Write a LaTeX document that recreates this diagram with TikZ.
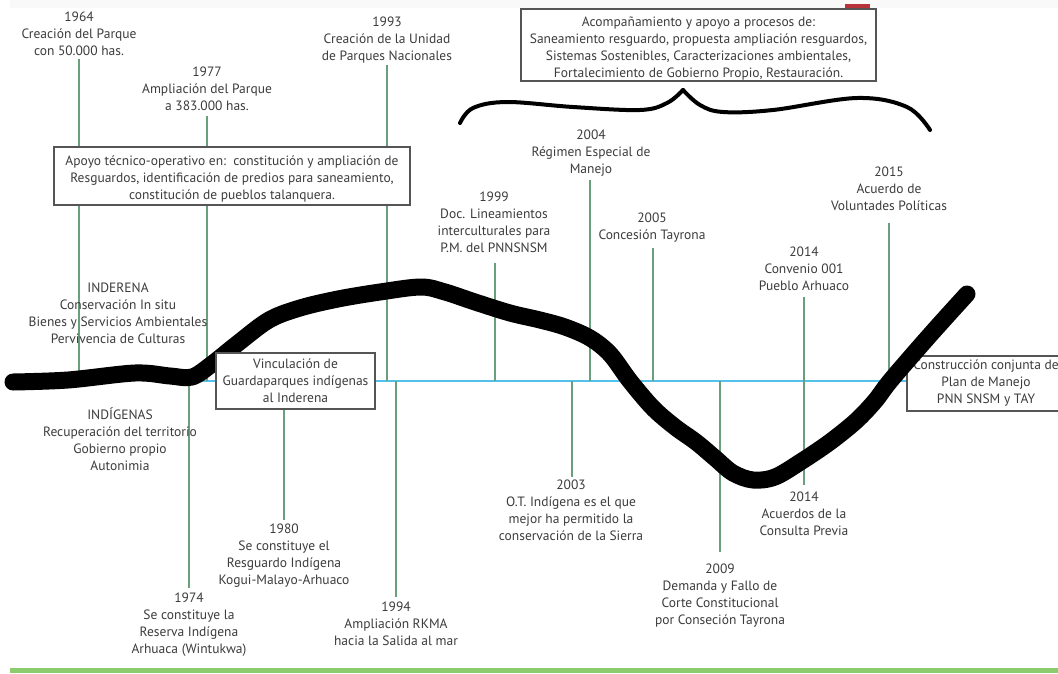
\documentclass[tikz,border=0pt]{standalone}
\usepackage{fontspec}
\setmainfont{PT Sans}
\definecolor{txt}{HTML}{3C3C3C}
\definecolor{vgreen}{HTML}{6A9F7E}
\definecolor{tblue}{HTML}{52C1EC}
\definecolor{bgray}{HTML}{555555}
\definecolor{gbar}{HTML}{8CCC6E}
\definecolor{redm}{HTML}{B8323A}
\begin{document}
\begin{tikzpicture}[x=1pt,y=-1pt,
  lab/.style={align=center, font=\fontsize{13.5}{17}\selectfont, text=txt, inner sep=0pt, anchor=north},
  conn/.style={draw=vgreen, line width=1.4pt},
  tline/.style={draw=tblue, line width=1.5pt},
  tbox/.style={draw=bgray, line width=1.1pt, fill=white, align=center, font=\fontsize{13.5}{17}\selectfont, text=txt, inner sep=0pt},
  wave/.style={draw=black, line width=17pt, line cap=round, line join=round},
  brace/.style={draw=black, line width=4pt, line cap=round, line join=round}
]
\clip (0,0) rectangle (1058,673);
\fill[white] (0,0) rectangle (1058,673);
\fill[gray!5] (10,0) rectangle (1058,8);
\fill[redm] (845,4) rectangle (870,9);
\fill[gbar] (10,668) rectangle (1058,673);

% line ends
\coordinate (s64) at (79,59);   \coordinate (t64) at (79,378);
\coordinate (s77) at (207,116); \coordinate (t77) at (207,381);
\coordinate (s93) at (387,65);  \coordinate (t93) at (387,381);
\coordinate (s99) at (495,263); \coordinate (t99) at (495,381);
\coordinate (s04) at (590,180); \coordinate (t04) at (590,381);
\coordinate (s05) at (653,248); \coordinate (t05) at (653,381);
\coordinate (s14) at (804,297); \coordinate (t14) at (804,485);
\coordinate (s15) at (889,223); \coordinate (t15) at (889,381);
\coordinate (s74) at (189,381); \coordinate (t74) at (189,588);
\coordinate (s80) at (284,409); \coordinate (t80) at (284,520);
\coordinate (s94) at (396,381); \coordinate (t94) at (396,597);
\coordinate (s03) at (572,381); \coordinate (t03) at (572,477);
\coordinate (s09) at (720,381); \coordinate (t09) at (720,552);
\coordinate (bl) at (187,381);

% right box
\node[tbox, minimum width=158pt, minimum height=55pt] (rbox) at (986,383.5)
  {Construcción conjunta de\\Plan de Manejo\\PNN SNSM y TAY};

% timeline and connectors
\draw[tline] (bl) -- (rbox.west |- bl);
\foreach \n in {64,77,93,99,04,05,14,15,74,80,94,03,09}
  \draw[conn] (s\n) -- (t\n);

% boxes over connectors
\node[tbox, minimum width=356pt, minimum height=58pt] (apoyo) at (232,176)
  {\rule{0pt}{16pt}Apoyo técnico-operativo en:\ \ constitución y ampliación de\\Resguardos, identificación de predios para saneamiento,\\constitución de pueblos talanquera.};
\node[tbox, minimum width=355pt, minimum height=72pt] (topbox) at (698.5,45)
  {\rule{0pt}{17pt}Acompañamiento y apoyo a procesos de:\\Saneamiento resguardo, propuesta ampliación resguardos,\\Sistemas Sostenibles, Caracterizaciones ambientales,\\Fortalecimiento de Gobierno Propio, Restauración.};

% big wave
\draw[wave] plot[smooth, tension=0.55] coordinates {
 (13,382) (68,380) (135,373) (170,376) (192,377) (212,364) (237,344) (269,320)
 (300,308) (338,299) (380,292) (421,287) (445,292) (475,302) (510,313) (540,320)
 (565,327) (590,338) (610,354) (630,381) (653,408) (675,427) (696,442) (715,458)
 (733,473) (753,480) (775,477) (802,461) (830,442) (856,421) (875,401) (891,380)
 (930,335) (967,294)};

% brace
\draw[brace] plot[smooth, tension=0.6] coordinates {
 (460,123) (473,108) (507,102) (573,107) (640,110) (667,103) (683,90)};
\draw[brace] plot[smooth, tension=0.6] coordinates {
 (683,90) (700,105) (723,112) (773,110) (857,98) (907,107) (930,130)};

\node[tbox, minimum width=159pt, minimum height=56pt] (vinc) at (295.5,381)
  {Vinculación de\\Guardaparques indígenas\\al Inderena};

% labels above
\node[lab] (l64) at (79,12) {1964\\Creación del Parque\\con 50.000 has.};
\node[lab] (l77) at (207,67) {1977\\Ampliación del Parque\\a 383.000 has.};
\node[lab] (l93) at (387,17) {1993\\Creación de la Unidad\\de Parques Nacionales};
\node[lab] (l99) at (494,192) {1999\\Doc. Lineamientos\\interculturales para\\P.M. del PNNSNSM};
\node[lab] (l04) at (591,130) {2004\\Régimen Especial de\\Manejo};
\node[lab] (l05) at (652,213) {2005\\Concesión Tayrona};
\node[lab] (l14a) at (804,247) {2014\\Convenio 001\\Pueblo Arhuaco};
\node[lab] (l15) at (889,167) {2015\\Acuerdo de\\Voluntades Políticas};

% side texts
\node[lab] (inderena) at (118,283) {INDERENA\\Conservación In situ\\Bienes y Servicios Ambientales\\Pervivencia de Culturas};
\node[lab] (indig) at (120,408) {INDÍGENAS\\Recuperación del territorio\\Gobierno propio\\Autonimia};

% labels below
\node[lab] (l74) at (189,593) {1974\\Se constituye la\\Reserva Indígena\\Arhuaca (Wintukwa)};
\node[lab] (l80) at (284,524) {1980\\Se constituye el\\Resguardo Indígena\\Kogui-Malayo-Arhuaco};
\node[lab] (l94) at (396,602) {1994\\Ampliación RKMA\\hacia la Salida al mar};
\node[lab] (l03) at (571,480) {2003\\O.T. Indígena es el que\\mejor ha permitido la\\conservación de la Sierra};
\node[lab] (l09) at (720,564) {2009\\Demanda y Fallo de\\Corte Constitucional\\por Conseción Tayrona};
\node[lab] (l14b) at (804,492) {2014\\Acuerdos de la\\Consulta Previa};
\end{tikzpicture}
\end{document}
